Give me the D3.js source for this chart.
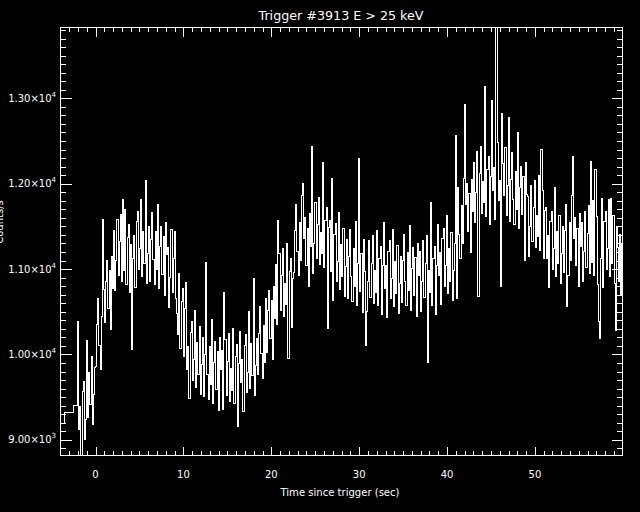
<!DOCTYPE html>
<html><head><meta charset="utf-8">
<script src="https://cdn.jsdelivr.net/npm/d3@7"></script>
<style>html,body{margin:0;padding:0;background:#000;} svg{display:block}</style>
</head><body>
<svg id="c" width="640" height="512"></svg>
<script>
const title = "Trigger #3913 E > 25 keV";
const xLabel = "Time since trigger (sec)";
const yLabel = "Counts/s";
// pre-trigger 1.024 s bins (left edges) and rates
const preEdges = [-4.608, -3.584, -2.560];
const preRates = [9190, 9325, 9400];
// post-trigger 0.128 s bins
const binStart = -2.048, binWidth = 0.128;
const rates = [
10380, 9120, 9390, 8780, 9560, 9680, 9000, 9240, 10160, 9260, 9790, 9410, 9980, 9180, 9530, 9850,
9860, 10350, 10660, 10110, 9820, 10440, 11580, 10760, 10370, 10860, 11100, 10540, 10980, 10290, 11150, 10770,
11450, 10750, 11100, 11580, 10920, 11320, 11640, 10850, 11820, 10980, 11700, 10820, 11370, 11520, 10720, 11290,
10060, 11120, 11390, 10780, 11560, 11680, 11000, 11240, 11810, 10910, 11440, 11060, 12040, 10830, 11180, 11500,
10860, 11350, 11660, 11110, 10820, 11440, 11000, 11760, 10770, 11260, 11500, 10940, 11380, 10690, 11550, 11170,
11250, 10550, 10900, 11460, 10720, 11120, 11440, 10650, 10480, 10230, 10950, 10070, 10620, 10770, 9970, 10540,
10840, 9820, 10090, 9480, 10260, 10380, 9700, 9940, 10510, 9610, 10140, 9760, 10330, 9530, 9880, 10200,
9510, 10000, 11080, 9760, 9470, 10090, 9650, 10410, 9420, 9910, 10150, 9590, 10030, 9340, 10200, 9820,
10050, 9350, 10720, 10180, 9520, 9920, 10240, 9450, 9830, 9580, 10300, 9420, 9970, 10120, 9150, 9890,
10270, 9670, 9940, 9330, 10110, 10230, 9550, 9790, 10500, 9600, 10130, 9750, 10890, 9520, 9870, 10190,
9760, 10250, 10560, 10010, 9720, 10340, 9900, 10660, 10020, 10510, 10750, 10190, 10630, 9940, 10800, 10420,
11050, 10350, 11570, 11180, 10520, 10920, 11240, 10450, 10830, 10580, 11300, 9950, 10970, 11120, 10320, 10890,
10960, 11450, 11760, 11210, 10920, 11540, 11100, 11860, 12000, 11360, 11600, 11040, 11480, 10790, 11650, 11270,
12440, 10950, 11300, 11780, 11120, 11520, 11840, 11050, 11430, 11180, 12250, 11020, 11570, 11720, 10300, 11490,
11570, 10970, 12060, 10630, 11410, 11530, 10850, 11090, 11660, 10760, 11290, 10910, 11480, 10680, 11030, 11350,
10660, 11150, 11460, 10910, 10620, 11240, 10800, 11560, 10570, 11060, 12290, 10740, 11180, 10490, 11350, 10970,
10100, 10500, 10850, 11330, 10670, 11070, 11390, 10600, 10980, 10730, 11450, 10570, 11120, 11270, 10470, 11040,
11550, 10770, 11040, 10430, 11210, 11330, 10650, 10890, 11460, 10560, 11090, 10710, 11280, 10480, 10830, 11150,
10610, 11100, 11410, 10860, 10570, 11190, 10750, 11510, 10520, 11010, 11250, 10690, 11130, 10440, 11300, 10920,
11200, 10500, 10850, 11330, 10670, 11070, 11390, 9900, 10980, 10730, 11780, 10570, 11120, 11270, 10470, 11040,
11520, 10920, 11190, 10580, 11360, 11480, 10800, 11040, 11630, 10710, 11240, 10860, 11430, 10630, 10980, 11300,
12570, 10650, 11960, 11410, 11120, 11740, 11300, 12060, 12930, 11760, 12000, 11440, 11880, 11190, 12050, 11670,
12250, 11550, 11900, 12380, 10680, 12120, 12440, 11650, 12030, 11780, 13140, 11620, 12170, 12320, 11520, 12090,
12970, 11920, 12190, 11580, 14500, 12480, 11800, 12040, 10790, 12820, 12240, 11860, 12430, 11630, 11980, 12780,
11560, 12050, 12360, 11810, 11520, 12140, 11700, 12600, 11470, 11960, 12200, 11640, 12080, 11100, 12250, 11870,
11850, 11150, 11500, 11980, 11320, 11720, 12040, 11250, 11630, 11380, 12100, 11220, 12400, 11920, 11120, 11690,
11720, 11120, 11390, 10780, 11560, 11680, 11000, 11240, 11950, 10910, 11440, 11060, 11630, 10830, 11180, 11500,
10960, 11450, 11760, 10560, 10920, 11540, 11100, 11860, 12320, 11360, 11600, 11040, 11480, 10790, 11650, 11270,
11550, 10850, 11200, 11680, 11020, 11420, 11740, 10950, 12260, 11080, 11800, 10920, 12170, 11620, 10820, 10380,
10190, 11120, 11830, 10780, 11560, 11680, 11000, 11240, 11810, 10910, 11830, 11060, 11630, 10830, 10280, 11500,
11250, 10850, 11400, 10700, 11300, 11050
];
const yMajorTicks = [9000, 10000, 11000, 12000, 13000];
const yTickMantissa = ["9.00", "1.00", "1.10", "1.20", "1.30"];
const yTickExp = ["3", "4", "4", "4", "4"];
const xMajorTicks = [0, 10, 20, 30, 40, 50];
const xTickLabels = ["0", "10", "20", "30", "40", "50"];

const svg = d3.select("#c");
svg.append("rect").attr("width", 640).attr("height", 512).attr("fill", "#000");
const L = 60.5, R = 622.5, T = 27.5, B = 455.5;
const x = d3.scaleLinear().domain([-3.99, 59.97]).range([L, R]);
const y = d3.scaleLinear().domain([8816, 13830]).range([B, T]);

const yMinor = d3.range(8900, 13801, 100).filter(v => v % 1000 !== 0);
const xMinor = d3.range(-3, 60, 1).filter(v => v % 10 !== 0);

function styleAxis(g) {
  g.select(".domain").remove();
  g.selectAll("line").attr("stroke", "#fff").attr("shape-rendering", "crispEdges");
  g.selectAll("text").remove();
}
svg.append("g").attr("transform", `translate(${L},0)`).call(d3.axisLeft(y).tickValues(yMinor).tickSize(-5.5)).call(styleAxis);
svg.append("g").attr("transform", `translate(${L},0)`).call(d3.axisLeft(y).tickValues(yMajorTicks).tickSize(-11)).call(styleAxis);
svg.append("g").attr("transform", `translate(${R},0)`).call(d3.axisRight(y).tickValues(yMinor).tickSize(-5.5)).call(styleAxis);
svg.append("g").attr("transform", `translate(${R},0)`).call(d3.axisRight(y).tickValues(yMajorTicks).tickSize(-11)).call(styleAxis);
svg.append("g").attr("transform", `translate(0,${B})`).call(d3.axisBottom(x).tickValues(xMinor).tickSize(-4.5)).call(styleAxis);
svg.append("g").attr("transform", `translate(0,${B})`).call(d3.axisBottom(x).tickValues(xMajorTicks).tickSize(-9)).call(styleAxis);
svg.append("g").attr("transform", `translate(0,${T})`).call(d3.axisTop(x).tickValues(xMinor).tickSize(-4.5)).call(styleAxis);
svg.append("g").attr("transform", `translate(0,${T})`).call(d3.axisTop(x).tickValues(xMajorTicks).tickSize(-9)).call(styleAxis);

svg.append("rect").attr("x", L).attr("y", T).attr("width", R - L).attr("height", B - T)
  .attr("fill", "none").attr("stroke", "#fff").attr("shape-rendering", "crispEdges");

svg.append("clipPath").attr("id", "clip").append("rect")
  .attr("x", L).attr("y", T).attr("width", R - L).attr("height", B - T);
const pts = preEdges.map((e, i) => [e, preRates[i]])
  .concat(rates.map((v, i) => [binStart + i * binWidth, v]));
pts.push([binStart + rates.length * binWidth, rates[rates.length - 1]]);
const line = d3.line().x(d => x(d[0])).y(d => y(d[1])).curve(d3.curveStepAfter);
svg.append("path").attr("d", line(pts)).attr("clip-path", "url(#clip)")
  .attr("fill", "none").attr("stroke", "#fff").attr("stroke-width", 1)
  .attr("shape-rendering", "crispEdges");

const font = "DejaVu Sans, sans-serif";
yMajorTicks.forEach((v, i) => {
  const t = svg.append("text").attr("x", 56).attr("y", y(v) + 3.5)
    .attr("text-anchor", "end").attr("fill", "#fff")
    .attr("font-family", font).attr("font-size", 10);
  t.append("tspan").text(yTickMantissa[i] + "\u00d710");
  t.append("tspan").attr("dy", -5).attr("font-size", 7).text(yTickExp[i]);
});
xMajorTicks.forEach((v, i) => {
  svg.append("text").attr("x", x(v)).attr("y", 478)
    .attr("text-anchor", "middle").attr("fill", "#fff")
    .attr("font-family", font).attr("font-size", 10).text(xTickLabels[i]);
});
svg.append("text").attr("x", 341).attr("y", 20).attr("text-anchor", "middle")
  .attr("fill", "#fff").attr("font-family", font).attr("font-size", 12.5)
  .attr("textLength", 165).attr("lengthAdjust", "spacingAndGlyphs").text(title);
svg.append("text").attr("x", 340).attr("y", 496).attr("text-anchor", "middle")
  .attr("fill", "#fff").attr("font-family", font).attr("font-size", 11)
  .attr("textLength", 119).attr("lengthAdjust", "spacingAndGlyphs").text(xLabel);
svg.append("text").attr("transform", "translate(3,222) rotate(-90)")
  .attr("text-anchor", "middle").attr("fill", "#fff").attr("font-family", font)
  .attr("font-size", 10).text(yLabel);
</script>
</body></html>
